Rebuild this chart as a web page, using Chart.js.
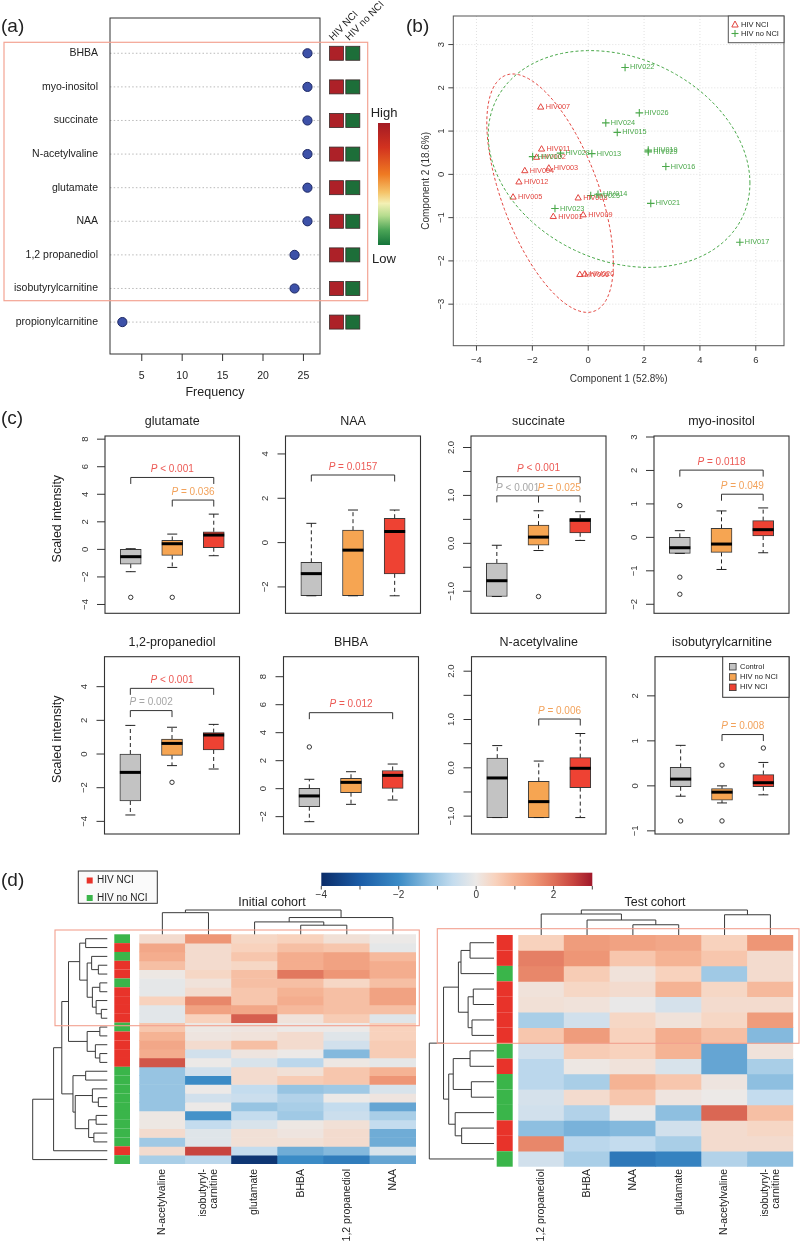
<!DOCTYPE html>
<html><head><meta charset="utf-8"><title>Figure</title>
<script src="https://cdn.jsdelivr.net/npm/chart.js@4.4.1/dist/chart.umd.min.js"></script>
<style>
html,body{margin:0;padding:0;background:#fff;}
#wrap{position:relative;width:800px;height:1241px;overflow:hidden;background:#fff;}
#wrap canvas{position:absolute;left:0;top:0;}
</style></head><body><div id="wrap"></div>
<script>
// ================= DATA =================
// ---- Panel (a): selection frequency ----
const aMetabolites = ['BHBA', 'myo-inositol', 'succinate', 'N-acetylvaline', 'glutamate', 'NAA', '1,2 propanediol', 'isobutyrylcarnitine', 'propionylcarnitine'];
const aFrequency = [25.5, 25.5, 25.5, 25.5, 25.5, 25.5, 23.9, 23.9, 2.6];
const aFreqTicks = [5, 10, 15, 20, 25];
const aGroupNames = ['HIV NCI', 'HIV no NCI'];
const aLevelNCI = ['High', 'High', 'High', 'High', 'High', 'High', 'High', 'High', 'High'];
const aLevelNoNCI = ['Low', 'Low', 'Low', 'Low', 'Low', 'Low', 'Low', 'Low', 'Low'];
const aLevelLabels = ['High', 'Low'];

// ---- Panel (b): PCA scores ----
const bNciNames = ['HIV007', 'HIV011', 'HIV002', 'HIV003', 'HIV004', 'HIV012', 'HIV005', 'HIV008', 'HIV001', 'HIV009', 'HIV006', 'HIV020'];
const bNciX = [-1.70, -1.67, -1.85, -1.41, -2.27, -2.48, -2.69, -0.36, -1.25, -0.18, -0.30, -0.12];
const bNciY = [1.55, 0.58, 0.39, 0.14, 0.08, -0.18, -0.53, -0.55, -0.98, -0.94, -2.32, -2.31];
const bNoNames = ['HIV022', 'HIV026', 'HIV024', 'HIV015', 'HIV028', 'HIV010', 'HIV013', 'HIV019', 'HIV029', 'HIV016', 'HIV025', 'HIV014', 'HIV021', 'HIV023', 'HIV017'];
const bNoX = [1.32, 1.83, 0.63, 1.04, -0.99, -1.99, 0.13, 2.15, 2.15, 2.78, 0.09, 0.35, 2.24, -1.19, 5.43];
const bNoY = [2.47, 1.42, 1.19, 0.97, 0.49, 0.41, 0.48, 0.56, 0.52, 0.18, -0.49, -0.46, -0.67, -0.79, -1.57];
const bXTicks = [-4, -2, 0, 2, 4, 6];
const bYTicks = [-3, -2, -1, 0, 1, 2, 3];
// confidence ellipses: centre x, centre y, sd x, sd y, correlation
const bEllipseNci = [-1.365, -0.435, 2.265, 2.755, -0.589];
const bEllipseNoNci = [1.105, 0.355, 4.685, 2.505, -0.223];

// ---- Panel (c): box plots, [whiskerLow, Q1, median, Q3, whiskerHigh] for Control, HIV no NCI, HIV NCI ----
const cGroups = ['Control', 'HIV no NCI', 'HIV NCI'];
const glutamateBox = [[-1.62, -1.07, -0.53, 0.00, 0.05], [-1.31, -0.44, 0.41, 0.65, 1.11], [-0.46, 0.12, 1.04, 1.28, 2.56]];
const glutamateOut = [[-3.48], [-3.48], []];
const glutamateTests = [[1, 3, 5.22, '< 0.001', 'red'], [2, 3, 3.58, '= 0.036', 'orange']];
const glutamateTicks = [-4, -2, 0, 2, 4, 6, 8];
const naaBox = [[-2.4, -2.4, -1.4, -0.89, 0.87], [-2.4, -2.4, -0.34, 0.56, 1.47], [-2.4, -1.41, 0.5, 1.1, 1.47]];
const naaOut = [[], [], []];
const naaTests = [[1, 3, 3.05, '= 0.0157', 'red']];
const naaTicks = [-2, 0, 2, 4];
const succinateBox = [[-1.11, -1.11, -0.78, -0.41, -0.04], [-0.15, -0.04, 0.13, 0.38, 0.68], [0.06, 0.22, 0.48, 0.52, 0.66]];
const succinateOut = [[], [-1.11], []];
const succinateTests = [[1, 3, 1.39, '< 0.001', 'red'], [1, 2, 0.99, '< 0.001', 'gray'], [2, 3, 0.99, '= 0.025', 'orange']];
const succinateTicks = [-1, -0.5, 0, 0.5, 1, 1.5, 2];
const myoBox = [[-0.48, -0.48, -0.31, 0.0, 0.2], [-0.96, -0.45, -0.2, 0.27, 0.79], [-0.46, 0.04, 0.23, 0.5, 0.88]];
const myoOut = [[0.95, -1.19, -1.7], [], []];
const myoTests = [[1, 3, 2.01, '= 0.0118', 'red'], [2, 3, 1.29, '= 0.049', 'orange']];
const myoTicks = [-2, -1, 0, 1, 2, 3];
const propBox = [[-3.62, -2.79, -1.09, 0.0, 1.7], [-0.69, -0.08, 0.63, 0.89, 1.59], [-0.89, 0.24, 1.13, 1.27, 1.76]];
const propOut = [[], [-1.68], []];
const propTests = [[1, 3, 3.9, '< 0.001', 'red'], [1, 2, 2.58, '= 0.002', 'gray']];
const propTicks = [-4, -2, 0, 2, 4];
const bhbaBox = [[-2.36, -1.29, -0.52, 0.02, 0.67], [-1.12, -0.29, 0.45, 0.74, 1.21], [-0.81, 0.02, 0.95, 1.3, 1.76]];
const bhbaOut = [[2.98], [], []];
const bhbaTests = [[1, 3, 5.43, '= 0.012', 'red']];
const bhbaTicks = [-2, 0, 2, 4, 6, 8];
const nacBox = [[-1.03, -1.03, -0.21, 0.2, 0.46], [-1.03, -1.03, -0.7, -0.28, 0.14], [-1.03, -0.41, -0.01, 0.21, 0.71]];
const nacOut = [[], [], []];
const nacTests = [[2, 3, 1.01, '= 0.006', 'orange']];
const nacTicks = [-1, -0.5, 0, 0.5, 1, 1.5, 2];
const isobBox = [[-0.23, -0.02, 0.15, 0.41, 0.9], [-0.38, -0.32, -0.14, -0.06, 0.0], [-0.2, -0.02, 0.07, 0.25, 0.52]];
const isobOut = [[-0.78], [0.46, -0.78], [0.84]];
const isobTests = [[2, 3, 1.14, '= 0.008', 'orange']];
const isobTicks = [-1, 0, 1, 2];

// ---- Panel (d): heat maps ----
const dGroupNames = ['HIV NCI', 'HIV no NCI'];
const initCols = ['N-acetylvaline', 'isobutyryl-\ncarnitine', 'glutamate', 'BHBA', '1,2 propanediol', 'NAA'];
const initGroups = ['HIV no NCI', 'HIV NCI', 'HIV no NCI', 'HIV NCI', 'HIV NCI', 'HIV no NCI', 'HIV NCI', 'HIV NCI', 'HIV NCI', 'HIV NCI', 'HIV no NCI', 'HIV NCI', 'HIV NCI', 'HIV NCI', 'HIV NCI', 'HIV no NCI', 'HIV no NCI', 'HIV no NCI', 'HIV no NCI', 'HIV no NCI', 'HIV no NCI', 'HIV no NCI', 'HIV no NCI', 'HIV no NCI', 'HIV NCI', 'HIV no NCI'];
const initValues = [
  [0.3, 1.5, 0.4, 0.5, 0.2, 0.0],
  [1.2, 0.3, 0.5, 0.8, 0.7, -0.1],
  [1.1, 0.3, 0.7, 1.1, 1.3, 0.9],
  [0.8, 0.3, 0.4, 1.1, 1.3, 1.1],
  [0.05, 0.4, 0.8, 1.9, 1.5, 1.1],
  [-0.1, 0.15, 0.8, 0.8, 0.4, 0.8],
  [-0.1, 0.3, 0.7, 1.0, 0.8, 1.3],
  [0.5, 1.7, 0.7, 1.1, 0.8, 1.3],
  [-0.15, 1.3, 1.2, 0.9, 0.8, 0.8],
  [-0.15, 0.5, 2.2, 0.15, 0.6, -0.2],
  [0.7, 0.05, 0.1, 0.0, 0.0, 0.5],
  [1.0, 0.1, 0.15, 0.3, -0.2, 0.5],
  [1.2, 0.3, 0.8, 0.3, -0.4, 0.6],
  [1.1, -0.4, 0.1, 0.0, -1.3, 0.6],
  [2.3, 0.0, -0.3, -0.7, 0.05, -0.1],
  [-1.1, -0.4, 0.3, 0.2, 0.7, 1.0],
  [-1.1, -2.0, 0.3, 0.6, 0.7, 1.5],
  [-1.1, 0.0, -0.6, -1.1, -1.0, -0.3],
  [-1.1, -0.4, -0.5, -0.8, 0.0, 0.1],
  [-1.1, 0.0, -1.1, -0.9, -0.6, -1.6],
  [0.05, -1.9, -0.6, -1.0, -0.5, -0.9],
  [0.05, -0.6, -0.3, 0.05, 0.2, -0.6],
  [0.3, -0.2, 0.2, 0.1, 0.3, -1.5],
  [-1.0, -0.2, 0.2, 0.2, 0.3, -1.5],
  [0.3, 2.5, -0.6, -1.5, -1.3, -0.3],
  [-0.9, -0.7, -3.8, -2.0, -2.3, -1.6]
];
const testCols = ['1,2 propanediol', 'BHBA', 'NAA', 'glutamate', 'N-acetylvaline', 'isobutyryl-\ncarnitine'];
const testGroups = ['HIV NCI', 'HIV NCI', 'HIV no NCI', 'HIV NCI', 'HIV NCI', 'HIV NCI', 'HIV NCI', 'HIV no NCI', 'HIV NCI', 'HIV no NCI', 'HIV no NCI', 'HIV no NCI', 'HIV NCI', 'HIV NCI', 'HIV no NCI'];
const testValues = [
  [0.5, 1.4, 1.3, 1.2, 0.5, 1.5],
  [1.8, 1.5, 0.7, 1.0, 0.7, 0.3],
  [1.7, 0.6, 0.15, 0.5, -1.0, 0.3],
  [0.15, 0.4, 0.3, 1.0, 0.4, 0.9],
  [0.2, 0.15, -0.05, -0.35, 0.3, 0.3],
  [-0.9, -0.4, 0.4, 0.15, 0.4, 1.4],
  [0.7, 1.4, 0.5, 1.1, 0.8, -1.3],
  [-0.4, 0.6, 0.5, 1.0, -1.6, 0.15],
  [-0.7, 0.05, 0.15, -0.3, -1.6, -0.9],
  [-0.7, -0.9, 1.0, 0.7, 0.1, -1.2],
  [-0.35, 0.3, 0.7, 0.1, 0.0, -0.6],
  [-0.4, -0.8, -0.05, -1.2, 2.1, 0.8],
  [-1.2, -1.4, -1.3, -0.4, 0.3, 0.4],
  [1.7, -0.7, -0.6, -0.9, 0.3, 0.3],
  [-0.4, -0.9, -2.4, -2.2, -0.8, -1.2]
];
// dendrograms: [left, right, relative merge height]; integers are leaves
const initRowTree = [[[[[[0, 1, 0.29], [[2, [3, 4, 0.12], 0.21], [[5, 6, 0.1], [7, [8, 9, 0.08], 0.15], 0.2], 0.27], 0.37],
  [[10, 11, 0.1], [12, [13, 14, 0.1], 0.16], 0.27], 0.52],
  [[15, 16, 0.29], [[17, [18, 19, 0.12], 0.2], [[20, 21, 0.15], [22, 23, 0.18], 0.25], 0.43], 0.46], 0.61], 24, 0.72], 25, 1.0];
const initColTree = [[0, 1, 0.89], [[2, [3, 4, 0.375], 0.51], 5, 0.69], 1.0];
const testRowTree = [[[[[0, 1, 0.37], 2, 0.51], [[3, 4, 0.32], [5, 6, 0.34], 0.4], 0.55],
  [[[7, 8, 0.37], [9, 10, 0.35], 0.63], [11, [12, 13, 0.5], 0.6], 0.7], 0.78], 14, 1.0];
const testColTree = [[0, [1, [2, 3, 0.41], 0.6], 0.84], [4, 5, 0.81], 1.0];
const dScaleStops = [-4, -3, -2, -1.2, -0.6, 0, 0.5, 1, 1.5, 2, 2.5, 3];
const dScaleColors = ['#0b2c68', '#1b5ca6', '#3b8bc6', '#8ebfe0', '#c4dcee', '#ece9e7', '#f8d2bd', '#f5b394', '#ee9676', '#df7059', '#c8453f', '#a0182a'];
const dScaleTicks = [-4, -3, -2, -1, 0, 1, 2, 3];
const dScaleLabels = ['\u22124', '', '\u22122', '', '0', '', '2', ''];

// ================= HELPERS =================
const FONT = '"Liberation Sans", Arial, Helvetica, sans-serif';
const f = (sz, st) => (st ? st + ' ' : '') + sz + 'px ' + FONT;
const MINUS = '\u2212';
function seg(ctx, x1, y1, x2, y2, color, w, dash) {
  ctx.save(); ctx.beginPath(); ctx.strokeStyle = color || '#333'; ctx.lineWidth = w || 1;
  ctx.setLineDash(dash || []); ctx.moveTo(x1, y1); ctx.lineTo(x2, y2); ctx.stroke(); ctx.restore();
}
function box(ctx, x1, y1, x2, y2, color, w) {
  ctx.save(); ctx.strokeStyle = color; ctx.lineWidth = w || 1; ctx.setLineDash([]);
  ctx.strokeRect(x1, y1, x2 - x1, y2 - y1); ctx.restore();
}
function text(ctx, s, x, y, o) {
  o = o || {};
  ctx.save(); ctx.font = o.font || f(10); ctx.fillStyle = o.color || '#222';
  ctx.textAlign = o.align || 'center'; ctx.textBaseline = o.base || 'middle';
  ctx.translate(x, y); if (o.rot) ctx.rotate(o.rot); ctx.fillText(s, 0, 0); ctx.restore();
}
function num(v, dec) { const s = v.toFixed(dec); return v < 0 ? MINUS + s.slice(1) : s; }
function hex2rgb(h) { return [parseInt(h.slice(1, 3), 16), parseInt(h.slice(3, 5), 16), parseInt(h.slice(5, 7), 16)]; }
function heatColor(v) {
  const st = dScaleStops, cl = dScaleColors;
  if (v <= st[0]) return cl[0];
  if (v >= st[st.length - 1]) return cl[cl.length - 1];
  for (let i = 0; i < st.length - 1; i++) {
    if (v >= st[i] && v <= st[i + 1]) {
      const t = (v - st[i]) / (st[i + 1] - st[i]);
      const a = hex2rgb(cl[i]), b = hex2rgb(cl[i + 1]);
      return 'rgb(' + a.map((c, k) => Math.round(c + (b[k] - c) * t)).join(',') + ')';
    }
  }
  return cl[0];
}
function mkChart(frame, cfg) {
  const c = document.createElement('canvas');
  c.width = 800; c.height = 1241;
  c.style.width = '800px'; c.style.height = '1241px';
  document.getElementById('wrap').appendChild(c);
  cfg.options = cfg.options || {};
  Object.assign(cfg.options, {
    responsive: false, maintainAspectRatio: false, animation: false, devicePixelRatio: 1, events: [],
    layout: { padding: { left: frame[0], top: frame[1], right: 800 - frame[2], bottom: 1241 - frame[3] } }
  });
  cfg.options.plugins = Object.assign({ legend: { display: false }, tooltip: { enabled: false }, title: { display: false } }, cfg.options.plugins || {});
  return new Chart(c.getContext('2d'), cfg);
}
function linAxis(min, max, rev) { return { type: 'linear', min: min, max: max, reverse: !!rev, display: false, bounds: 'data', offset: false, beginAtZero: false }; }

// ================= PANEL (a) =================
const levelColors = { High: '#ad2128', Low: '#1d6e39' };
mkChart([110, 18, 320, 354], {
  type: 'scatter',
  data: { datasets: [{ data: aFrequency.map((v, i) => ({ x: v, y: i + 1 })), pointRadius: 4.6, backgroundColor: '#3d51a8', borderColor: '#1c2763', borderWidth: 1 }] },
  options: { scales: { x: linAxis(1.07, 27.05), y: linAxis(-0.05, 9.95, true) } },
  plugins: [{
    id: 'pa',
    beforeDatasetsDraw(ch) {
      const { ctx, chartArea: ca, scales: { y } } = ch;
      aMetabolites.forEach((m, i) => { const py = y.getPixelForValue(i + 1); seg(ctx, ca.left, py, ca.right, py, '#a8a8a8', 0.8, [1.5, 2.2]); });
    },
    afterDraw(ch) {
      const { ctx, chartArea: ca, scales: { x, y } } = ch;
      box(ctx, ca.left, ca.top, ca.right, ca.bottom, '#333', 1);
      aFreqTicks.forEach(t => { const px = x.getPixelForValue(t); seg(ctx, px, ca.bottom, px, ca.bottom + 7, '#333', 1); text(ctx, String(t), px, 376, { font: f(10.5) }); });
      text(ctx, 'Frequency', (ca.left + ca.right) / 2, 393, { font: f(12.5) });
      aMetabolites.forEach((m, i) => {
        const py = y.getPixelForValue(i + 1);
        text(ctx, m, 98, py, { font: f(10.5), align: 'right' });
        [aLevelNCI[i], aLevelNoNCI[i]].forEach((lv, k) => {
          const sx = 329.5 + k * 16.3;
          ctx.fillStyle = levelColors[lv]; ctx.fillRect(sx, py - 7, 14, 14);
          box(ctx, sx, py - 7, sx + 14, py + 7, '#3a2a2a', 0.8);
        });
      });
      aGroupNames.forEach((g, k) => text(ctx, g, 333 + k * 16.3, 41, { font: f(10), align: 'left', base: 'alphabetic', rot: -0.8 }));
      // colour key
      const gr = ctx.createLinearGradient(0, 123, 0, 245);
      [[0, '#a31b24'], [0.2, '#d2321f'], [0.42, '#ef7a22'], [0.57, '#f5c46a'], [0.66, '#f3f0b4'], [0.76, '#b5dc8e'], [0.88, '#4aa456'], [1, '#14743a']].forEach(s => gr.addColorStop(s[0], s[1]));
      ctx.fillStyle = gr; ctx.fillRect(378, 123, 12, 122);
      text(ctx, aLevelLabels[0], 384, 113, { font: f(13) });
      text(ctx, aLevelLabels[1], 384, 259, { font: f(13) });
      box(ctx, 4, 42.3, 367.7, 300.7, '#f3a493', 1.2);
      text(ctx, '(a)', 1, 27, { font: f(19), align: 'left' });
    }
  }]
});

// ================= PANEL (b) =================
const bRed = '#e2453f', bGreen = '#4aa84a';
function ellipsePath(ctx, x, y, e) {
  ctx.beginPath();
  for (let k = 0; k <= 180; k++) {
    const ph = k / 180 * 2 * Math.PI;
    const X = e[0] + e[2] * Math.cos(ph);
    const Y = e[1] + e[3] * (e[4] * Math.cos(ph) + Math.sqrt(1 - e[4] * e[4]) * Math.sin(ph));
    const px = x.getPixelForValue(X), py = y.getPixelForValue(Y);
    if (k === 0) ctx.moveTo(px, py); else ctx.lineTo(px, py);
  }
}
mkChart([453.3, 16, 784, 345.7], {
  type: 'scatter',
  data: { datasets: [
    { data: bNciX.map((v, i) => ({ x: v, y: bNciY[i] })), pointStyle: 'triangle', pointRadius: 3.6, backgroundColor: 'rgba(0,0,0,0)', borderColor: bRed, borderWidth: 1 },
    { data: bNoX.map((v, i) => ({ x: v, y: bNoY[i] })), pointStyle: 'cross', pointRadius: 3.8, borderColor: bGreen, borderWidth: 1.1 }
  ] },
  options: { scales: { x: linAxis(-4.83, 7.01), y: linAxis(-3.96, 3.66) } },
  plugins: [{
    id: 'pb',
    beforeDatasetsDraw(ch) {
      const { ctx, chartArea: ca, scales: { x, y } } = ch;
      bXTicks.forEach(t => { const px = x.getPixelForValue(t); seg(ctx, px, ca.top, px, ca.bottom, '#d9d9d9', 0.8, [1, 2]); });
      bYTicks.forEach(t => { const py = y.getPixelForValue(t); seg(ctx, ca.left, py, ca.right, py, '#d9d9d9', 0.8, [1, 2]); });
    },
    afterDatasetsDraw(ch) {
      const { ctx, scales: { x, y } } = ch;
      ctx.save(); ctx.lineWidth = 1; ctx.setLineDash([3, 2.2]);
      ctx.strokeStyle = bRed; ellipsePath(ctx, x, y, bEllipseNci); ctx.stroke();
      ctx.strokeStyle = bGreen; ellipsePath(ctx, x, y, bEllipseNoNci); ctx.stroke();
      ctx.restore();
      bNciNames.forEach((n, i) => text(ctx, n, x.getPixelForValue(bNciX[i]) + 5, y.getPixelForValue(bNciY[i]), { font: f(7.3), align: 'left', color: bRed }));
      bNoNames.forEach((n, i) => text(ctx, n, x.getPixelForValue(bNoX[i]) + 5, y.getPixelForValue(bNoY[i]), { font: f(7.3), align: 'left', color: bGreen }));
    },
    afterDraw(ch) {
      const { ctx, chartArea: ca, scales: { x, y } } = ch;
      box(ctx, ca.left, ca.top, ca.right, ca.bottom, '#555', 1);
      bXTicks.forEach(t => { const px = x.getPixelForValue(t); seg(ctx, px, ca.bottom, px, ca.bottom + 5, '#444', 1); text(ctx, num(t, 0), px, 360, { font: f(9.5), color: '#333' }); });
      bYTicks.forEach(t => { const py = y.getPixelForValue(t); seg(ctx, ca.left - 5, py, ca.left, py, '#444', 1); text(ctx, num(t, 0), ca.left - 12, py, { font: f(9.5), rot: -Math.PI / 2, color: '#333' }); });
      text(ctx, 'Component 1 (52.8%)', (ca.left + ca.right) / 2, 379.5, { font: f(10), color: '#333' });
      text(ctx, 'Component 2 (18.6%)', 426, (ca.top + ca.bottom) / 2, { font: f(10), rot: -Math.PI / 2, color: '#333' });
      // legend
      ctx.save(); ctx.fillStyle = '#fff'; ctx.fillRect(728.3, 16, 55.7, 26.7); ctx.restore();
      box(ctx, 728.3, 16, 784, 42.7, '#555', 1);
      ctx.save(); ctx.strokeStyle = bRed; ctx.lineWidth = 1; ctx.beginPath(); ctx.moveTo(735, 21); ctx.lineTo(738.2, 27); ctx.lineTo(731.8, 27); ctx.closePath(); ctx.stroke(); ctx.restore();
      text(ctx, 'HIV NCI', 741, 24.5, { font: f(7.5), align: 'left' });
      seg(ctx, 731.5, 33.5, 738.5, 33.5, bGreen, 1.1); seg(ctx, 735, 30, 735, 37, bGreen, 1.1);
      text(ctx, 'HIV no NCI', 741, 34, { font: f(7.5), align: 'left' });
      text(ctx, '(b)', 406, 27, { font: f(19), align: 'left' });
    }
  }]
});

// ================= PANEL (c) =================
const cGroupColors = ['#c3c3c3', '#f6a552', '#ee4233'];
const pColors = { red: '#ec5a55', orange: '#f2a25b', gray: '#a6a6a6' };
const cPanels = [
  { name: 'glutamate', frame: [105, 436, 239.5, 613.3], range: [-4.64, 8.23], stats: glutamateBox, outs: glutamateOut, tests: glutamateTests, ticks: glutamateTicks, dec: 0, ylab: true },
  { name: 'NAA', frame: [285.5, 436, 420.5, 613.3], range: [-3.19, 4.81], stats: naaBox, outs: naaOut, tests: naaTests, ticks: naaTicks, dec: 0 },
  { name: 'succinate', frame: [471, 436, 606, 613.3], range: [-1.46, 2.24], stats: succinateBox, outs: succinateOut, tests: succinateTests, ticks: succinateTicks, dec: 1 },
  { name: 'myo-inositol', frame: [654, 436, 789, 613.3], range: [-2.27, 3.03], stats: myoBox, outs: myoOut, tests: myoTests, ticks: myoTicks, dec: 0 },
  { name: '1,2-propanediol', frame: [104.5, 656.7, 239.5, 834], range: [-4.75, 5.78], stats: propBox, outs: propOut, tests: propTests, ticks: propTicks, dec: 0, ylab: true },
  { name: 'BHBA', frame: [283.5, 656.7, 418.5, 834], range: [-3.24, 9.43], stats: bhbaBox, outs: bhbaOut, tests: bhbaTests, ticks: bhbaTicks, dec: 0 },
  { name: 'N-acetylvaline', frame: [471.5, 656.7, 606, 834], range: [-1.37, 2.30], stats: nacBox, outs: nacOut, tests: nacTests, ticks: nacTicks, dec: 1 },
  { name: 'isobutyrylcarnitine', frame: [655, 656.7, 789, 834], range: [-1.07, 2.87], stats: isobBox, outs: isobOut, tests: isobTests, ticks: isobTicks, dec: 0, legend: true }
];
cPanels.forEach((b, idx) => {
  const boxData = b.stats.map((s, i) => ({ x: i + 1, y: [s[1], s[3]] }));
  const outData = [];
  b.outs.forEach((arr, i) => arr.forEach(v => outData.push({ x: i + 1, y: v })));
  mkChart(b.frame, {
    type: 'bar',
    data: { datasets: [
      { type: 'bar', data: boxData, backgroundColor: cGroupColors, borderColor: '#3a3a3a', borderWidth: 1, borderSkipped: false, barThickness: 21, order: 2 },
      { type: 'scatter', data: outData, pointStyle: 'circle', pointRadius: 2.2, borderColor: '#333', borderWidth: 1, backgroundColor: 'rgba(0,0,0,0)', order: 1 }
    ] },
    options: { scales: { x: linAxis(0.38, 3.62), y: linAxis(b.range[0], b.range[1]) } },
    plugins: [{
      id: 'pc' + idx,
      afterDatasetsDraw(ch) {
        const { ctx, scales: { x, y } } = ch;
        b.stats.forEach((s, i) => {
          const cx = x.getPixelForValue(i + 1);
          const Y = v => y.getPixelForValue(v);
          if (s[4] > s[3]) seg(ctx, cx, Y(s[3]), cx, Y(s[4]), '#222', 1, [4, 3]);
          if (s[0] < s[1]) seg(ctx, cx, Y(s[1]), cx, Y(s[0]), '#222', 1, [4, 3]);
          seg(ctx, cx - 5, Y(s[4]), cx + 5, Y(s[4]), '#222', 1);
          seg(ctx, cx - 5, Y(s[0]), cx + 5, Y(s[0]), '#222', 1);
          seg(ctx, cx - 10.5, Y(s[2]), cx + 10.5, Y(s[2]), '#000', 3);
        });
      },
      afterDraw(ch) {
        const { ctx, chartArea: ca, scales: { x, y } } = ch;
        box(ctx, ca.left, ca.top, ca.right, ca.bottom, '#333', 1.1);
        b.ticks.forEach(t => {
          const py = y.getPixelForValue(t);
          seg(ctx, ca.left - 8, py, ca.left, py, '#333', 1);
          const labelled = b.dec === 0 || Math.abs(t - Math.round(t)) < 1e-9;
          if (labelled) text(ctx, num(t, b.dec), ca.left - 20, py, { font: f(9.5), rot: -Math.PI / 2, color: '#333' });
        });
        text(ctx, b.name, (ca.left + ca.right) / 2, ca.top - 14, { font: f(12.5) });
        if (b.ylab) text(ctx, 'Scaled intensity', 58, (ca.top + ca.bottom) / 2 - 6, { font: f(12.5), rot: -Math.PI / 2 });
        b.tests.forEach(t => {
          const x1 = x.getPixelForValue(t[0]), x2 = x.getPixelForValue(t[1]);
          const py = y.getPixelForValue(t[2]);
          seg(ctx, x1, py + 6.5, x1, py, '#333', 1); seg(ctx, x1, py, x2, py, '#333', 1); seg(ctx, x2, py, x2, py + 6.5, '#333', 1);
          const col = pColors[t[4]];
          ctx.font = f(10, 'italic'); const wP = ctx.measureText('P').width;
          ctx.font = f(10); const wR = ctx.measureText(' ' + t[3]).width;
          const sx = (x1 + x2) / 2 - (wP + wR) / 2;
          text(ctx, 'P', sx, py - 8, { font: f(10, 'italic'), color: col, align: 'left' });
          text(ctx, ' ' + t[3], sx + wP, py - 8, { font: f(10), color: col, align: 'left' });
        });
        if (b.legend) {
          ctx.save(); ctx.fillStyle = '#fff'; ctx.fillRect(722.7, ca.top, ca.right - 722.7, 40.6); ctx.restore();
          box(ctx, 722.7, ca.top, ca.right, ca.top + 40.6, '#333', 1);
          cGroups.forEach((g, k) => {
            const gy = ca.top + 10 + k * 10.3;
            ctx.fillStyle = cGroupColors[k]; ctx.fillRect(729.5, gy - 3.3, 6.6, 6.6);
            box(ctx, 729.5, gy - 3.3, 736.1, gy + 3.3, '#333', 0.8);
            text(ctx, g, 740, gy, { font: f(7.5), align: 'left' });
          });
        }
        if (idx === 0) text(ctx, '(c)', 1, 419, { font: f(19), align: 'left' });
      }
    }]
  });
});

// ================= PANEL (d) =================
const dGroupColors = ['#e8332a', '#3ab54a'];
function layoutTree(node, pos) {
  if (typeof node === 'number') return { p: pos(node), h: 0 };
  const a = layoutTree(node[0], pos), b = layoutTree(node[1], pos);
  return { p: (a.p + b.p) / 2, h: node[2], a: a, b: b };
}
function drawTree(ctx, t, H, rows) {
  if (!t.a) return;
  const hn = H(t.h);
  [t.a, t.b].forEach(c => {
    if (rows) seg(ctx, H(c.h), c.p, hn, c.p, '#3a3a3a', 1); else seg(ctx, c.p, H(c.h), c.p, hn, '#3a3a3a', 1);
    drawTree(ctx, c, H, rows);
  });
  if (rows) seg(ctx, hn, t.a.p, hn, t.b.p, '#3a3a3a', 1); else seg(ctx, t.a.p, hn, t.b.p, hn, '#3a3a3a', 1);
}
const dPanels = [
  { id: 'init', title: 'Initial cohort', frame: [139.3, 934.3, 416, 1164], cols: initCols, values: initValues, groups: initGroups, rowTree: initRowTree, colTree: initColTree,
    side: [114.3, 130], rowDen: [32.7, 107.3], colDen: [910, 934.3], titleX: 272, hi: [55, 930, 419.3, 1025.7] },
  { id: 'test', title: 'Test cohort', frame: [518.3, 935, 793.3, 1166.7], cols: testCols, values: testValues, groups: testGroups, rowTree: testRowTree, colTree: testColTree,
    side: [496.7, 512.7], rowDen: [429.3, 494], colDen: [910, 935], titleX: 655, hi: [437.3, 928.7, 799, 1043.3] }
];
dPanels.forEach((h, idx) => {
  const n = h.values.length;
  const datasets = h.values.map((row, r) => ({
    data: row.map(() => [r, r + 1]),
    backgroundColor: row.map(v => heatColor(v)),
    borderWidth: 0, grouped: false, categoryPercentage: 1, barPercentage: 1
  }));
  mkChart(h.frame, {
    type: 'bar',
    data: { labels: h.cols, datasets: datasets },
    options: { scales: { x: { type: 'category', display: false, offset: true }, y: linAxis(0, n, true) } },
    plugins: [{
      id: 'pd' + idx,
      afterDraw(ch) {
        const { ctx, scales: { x, y } } = ch;
        h.groups.forEach((g, r) => {
          const y1 = y.getPixelForValue(r), y2 = y.getPixelForValue(r + 1);
          ctx.fillStyle = dGroupColors[dGroupNames.indexOf(g)];
          ctx.fillRect(h.side[0], y1, h.side[1] - h.side[0], y2 - y1);
        });
        const rt = layoutTree(h.rowTree, i => y.getPixelForValue(i + 0.5));
        drawTree(ctx, rt, v => h.rowDen[1] - v * (h.rowDen[1] - h.rowDen[0]), true);
        const ct = layoutTree(h.colTree, i => x.getPixelForValue(i));
        drawTree(ctx, ct, v => h.colDen[1] - v * (h.colDen[1] - h.colDen[0]), false);
        text(ctx, h.title, h.titleX, 902.5, { font: f(12.5) });
        h.cols.forEach((c, i) => {
          const cx = x.getPixelForValue(i);
          const lines = c.split('\n');
          lines.forEach((ln, k) => text(ctx, ln, cx + (k - (lines.length - 1) / 2) * 11, 1169, { font: f(10.5), align: 'right', rot: -Math.PI / 2 }));
        });
        box(ctx, h.hi[0], h.hi[1], h.hi[2], h.hi[3], '#f2a08f', 1.1);
        if (idx === 0) {
          // colour key
          const x0 = 321.3, x1 = 592.3, k = (x1 - x0) / 7;
          const gr = ctx.createLinearGradient(x0, 0, x1, 0);
          dScaleStops.forEach((s, i) => gr.addColorStop((s + 4) / 7, dScaleColors[i]));
          ctx.fillStyle = gr; ctx.fillRect(x0, 872.7, x1 - x0, 13.3);
          dScaleTicks.forEach((t, i) => {
            const px = x0 + (t + 4) * k;
            seg(ctx, px, 886, px, 889.5, '#444', 1);
            if (dScaleLabels[i]) text(ctx, dScaleLabels[i], px, 895.5, { font: f(10), color: '#333' });
          });
          // legend
          ctx.save(); ctx.fillStyle = '#fafafa'; ctx.fillRect(78.3, 871, 79, 32.3); ctx.restore();
          box(ctx, 78.3, 871, 157.3, 903.3, '#333', 1);
          dGroupNames.forEach((g, j) => {
            const gy = 880.5 + j * 17.5;
            ctx.fillStyle = dGroupColors[j]; ctx.fillRect(86.7, gy - 3, 6, 6);
            text(ctx, g, 97, gy, { font: f(10), align: 'left' });
          });
          text(ctx, '(d)', 1, 881, { font: f(19), align: 'left' });
        }
      }
    }]
  });
});
</script></body></html>
